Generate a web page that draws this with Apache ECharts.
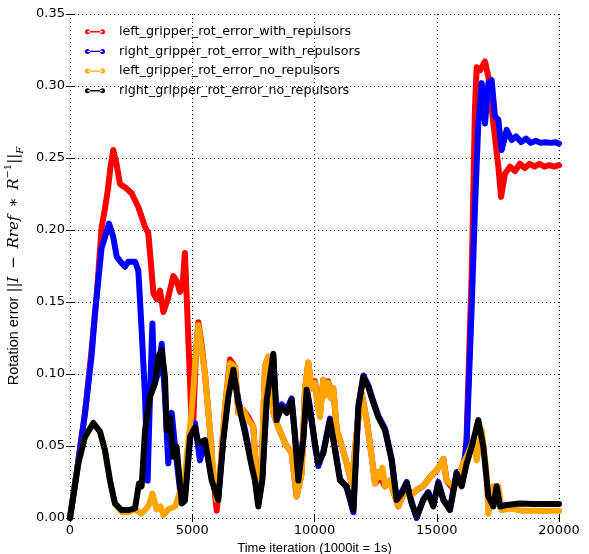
<!DOCTYPE html>
<html><head><meta charset="utf-8">
<script src="https://cdn.jsdelivr.net/npm/echarts@6/dist/echarts.min.js"></script>
<style>html,body{margin:0;padding:0;background:#fff}#c{width:589px;height:554px}</style>
</head><body><div id="c"></div>
<script>
const seriesNames = ['left_gripper_rot_error_with_repulsors','right_gripper_rot_error_with_repulsors','left_gripper_rot_error_no_repulsors','right_gripper_rot_error_no_repulsors'];
const seriesColors = ['#ff0000','#0000ff','#ffa500','#000000'];
const xTicks = [0,5000,10000,15000,20000];
const yTicks = [0,0.05,0.10,0.15,0.20,0.25,0.30,0.35];

const leftWithRep = [[0,0],[300,0.035],[615,0.073],[885,0.117],[1090,0.154],[1295,0.202],[1430,0.215],[1550,0.228],[1650,0.243],[1770,0.2555],[1900,0.246],[2045,0.232],[2300,0.229],[2520,0.2255],[2795,0.216],[3070,0.202],[3200,0.198],[3310,0.177],[3410,0.156],[3550,0.152],[3680,0.158],[3820,0.143],[4000,0.152],[4225,0.168],[4350,0.165],[4500,0.157],[4620,0.165],[4700,0.184],[4780,0.15],[4850,0.12],[4920,0.09],[4980,0.06],[5050,0.07],[5150,0.115],[5250,0.136],[5400,0.118],[5520,0.10],[5725,0.061],[5850,0.03],[6000,0.005],[6135,0.03],[6340,0.077],[6545,0.11],[6750,0.105],[6885,0.073],[7090,0.075],[7295,0.07],[7500,0.063],[7635,0.026],[7840,0.036],[7975,0.105],[8110,0.112],[8315,0.073],[8520,0.063],[8795,0.052],[9065,0.045],[9270,0.015],[9475,0.031],[9610,0.089],[9745,0.108],[9880,0.09],[10020,0.095],[10120,0.08],[10225,0.072],[10360,0.096],[10450,0.086],[10560,0.095],[10680,0.084],[10770,0.09],[10910,0.061],[11045,0.054],[11315,0.038],[11520,0.024],[11725,0.059],[11930,0.0865],[12135,0.068],[12340,0.0425],[12475,0.024],[12680,0.0285],[12885,0.022],[13090,0.026],[13290,0.015],[13430,0.008],[13700,0.0195],[13905,0.015],[14180,0.0195],[14450,0.022],[14725,0.0285],[15000,0.033],[15270,0.041],[15405,0.026],[15680,0.02],[15950,0.031],[16085,0.038],[16200,0.045],[16300,0.10],[16430,0.170],[16565,0.2855],[16635,0.313],[16770,0.311],[16975,0.317],[17110,0.3065],[17315,0.274],[17520,0.244],[17630,0.223],[17790,0.239],[18000,0.244],[18200,0.241],[18400,0.246],[18600,0.243],[18800,0.246],[19000,0.244],[19200,0.246],[19400,0.244],[19600,0.245],[19800,0.244],[20000,0.245]];

const rightWithRep = [[0,0],[300,0.035],[615,0.073],[885,0.113],[1020,0.142],[1295,0.188],[1430,0.195],[1595,0.2045],[1770,0.195],[1910,0.1815],[2115,0.177],[2250,0.1745],[2385,0.178],[2660,0.178],[2795,0.172],[2930,0.1305],[3070,0.084],[3175,0.026],[3270,0.084],[3370,0.135],[3450,0.0935],[3600,0.1],[3750,0.121],[3885,0.084],[4020,0.038],[4160,0.073],[4295,0.0495],[4500,0.0195],[4700,0.015],[4975,0.066],[5110,0.066],[5315,0.04],[5520,0.054],[5795,0.028],[6065,0.014],[6270,0.056],[6475,0.086],[6680,0.104],[6885,0.082],[7160,0.061],[7430,0.038],[7565,0.028],[7700,0.01],[7865,0.028],[8045,0.084],[8200,0.1],[8315,0.112],[8450,0.07],[8655,0.079],[8860,0.075],[9065,0.083],[9200,0.058],[9340,0.028],[9540,0.056],[9680,0.09],[9815,0.077],[10020,0.05],[10155,0.036],[10360,0.046],[10635,0.069],[10840,0.048],[11045,0.027],[11315,0.021],[11590,0.004],[11795,0.078],[12000,0.099],[12200,0.092],[12405,0.081],[12610,0.071],[12885,0.062],[13155,0.041],[13360,0.0135],[13565,0.018],[13770,0.025],[13975,0.011],[14180,0.0],[14450,0.013],[14655,0.018],[14860,0.009],[15065,0.025],[15270,0.013],[15540,0.006],[15815,0.032],[16020,0.023],[16225,0.054],[16430,0.147],[16565,0.216],[16700,0.274],[16840,0.302],[16975,0.274],[17110,0.302],[17245,0.304],[17380,0.279],[17520,0.2765],[17655,0.2555],[17860,0.2695],[18065,0.2625],[18250,0.265],[18450,0.261],[18650,0.2635],[18850,0.2605],[19050,0.262],[19250,0.2605],[19450,0.261],[19650,0.2605],[19850,0.261],[20000,0.260]];

const leftNoRep = [[0,0],[340,0.038],[615,0.0565],[955,0.066],[1225,0.06],[1430,0.047],[1635,0.026],[1840,0.01],[2115,0.004],[2385,0.004],[2660,0.006],[2900,0.003],[3100,0.006],[3250,0.01],[3370,0.017],[3450,0.012],[3545,0.006],[3700,0.008],[3820,0.002],[4020,0.006],[4295,0.008],[4500,0.018],[4700,0.03],[4850,0.055],[4950,0.07],[5050,0.09],[5150,0.115],[5250,0.134],[5400,0.115],[5520,0.10],[5725,0.061],[5850,0.035],[6000,0.0125],[6135,0.031],[6340,0.077],[6545,0.1075],[6750,0.105],[6885,0.073],[7090,0.075],[7295,0.068],[7500,0.063],[7635,0.026],[7840,0.036],[7975,0.105],[8110,0.112],[8315,0.073],[8520,0.063],[8795,0.052],[9065,0.045],[9270,0.015],[9475,0.031],[9610,0.089],[9745,0.108],[9880,0.09],[10020,0.094],[10120,0.078],[10225,0.07],[10360,0.096],[10450,0.085],[10560,0.094],[10680,0.083],[10770,0.09],[10910,0.061],[11045,0.054],[11315,0.038],[11520,0.024],[11725,0.059],[11930,0.0865],[12135,0.068],[12340,0.0425],[12475,0.024],[12580,0.032],[12680,0.0285],[12780,0.035],[12885,0.022],[13090,0.026],[13290,0.015],[13430,0.008],[13700,0.0195],[13905,0.015],[14180,0.0195],[14450,0.022],[14725,0.0285],[15000,0.033],[15270,0.041],[15405,0.026],[15680,0.022],[15950,0.031],[16085,0.038],[16290,0.045],[16495,0.054],[16635,0.04],[16840,0.061],[17040,0.031],[17110,0.003],[17315,0.022],[17520,0.022],[17655,0.0055],[18000,0.0065],[18500,0.005],[19000,0.005],[19500,0.0048],[20000,0.005]];

const rightNoRep = [[0,0],[340,0.038],[615,0.0565],[955,0.066],[1225,0.06],[1430,0.047],[1635,0.026],[1840,0.01],[2115,0.0055],[2385,0.0055],[2660,0.0067],[2820,0.024],[2930,0.022],[3070,0.061],[3270,0.084],[3475,0.0935],[3615,0.112],[3750,0.1165],[3885,0.098],[3955,0.061],[4090,0.07],[4225,0.0425],[4360,0.0495],[4570,0.01],[4700,0.012],[4910,0.0565],[5110,0.063],[5250,0.052],[5520,0.054],[5795,0.026],[6065,0.0125],[6270,0.054],[6475,0.084],[6680,0.103],[6885,0.08],[7160,0.059],[7430,0.036],[7565,0.026],[7700,0.008],[7865,0.026],[8045,0.082],[8200,0.1],[8315,0.114],[8450,0.068],[8655,0.077],[8860,0.073],[9065,0.082],[9200,0.0565],[9340,0.026],[9540,0.054],[9680,0.089],[9815,0.075],[10020,0.052],[10155,0.038],[10360,0.045],[10635,0.068],[10840,0.047],[11045,0.026],[11315,0.022],[11590,0.0055],[11795,0.077],[12000,0.098],[12200,0.091],[12405,0.08],[12610,0.07],[12885,0.061],[13155,0.04],[13360,0.0125],[13565,0.017],[13770,0.024],[13975,0.01],[14180,0.001],[14450,0.0125],[14655,0.017],[14860,0.008],[15065,0.024],[15270,0.0125],[15540,0.0055],[15815,0.031],[16020,0.022],[16225,0.038],[16430,0.0495],[16700,0.068],[16905,0.0495],[17110,0.015],[17315,0.008],[17450,0.022],[17590,0.008],[17860,0.009],[18400,0.01],[19000,0.0098],[20000,0.0098]];

const seriesData = [leftWithRep, rightWithRep, leftNoRep, rightNoRep];

const legendIcon = 'path://M0,2.5a2.5,2.5 0 1,0 5,0a2.5,2.5 0 1,0 -5,0Z M15,2.5a2.5,2.5 0 1,0 5,0a2.5,2.5 0 1,0 -5,0Z M2.5,1.8L17.5,1.8L17.5,3.2L2.5,3.2Z';

const chart = echarts.init(document.getElementById('c'), null, {renderer:'canvas'});
const tickFont = {color:'#000', fontFamily:'DejaVu Sans', fontSize:13};
const grid = {color:'#000', type:[1,3], width:1};
chart.setOption({
  animation:false,
  backgroundColor:'#fff',
  grid:{left:70, right:30, top:14, bottom:36, containLabel:false, outerBoundsMode:'none'},
  legend:{orient:'vertical', left:85, top:23.7, padding:0, itemGap:3.7, itemWidth:20, itemHeight:5, icon:legendIcon,
    textStyle:{fontFamily:'DejaVu Sans', fontSize:12.7, color:'#000', lineHeight:16, padding:[0,0,0,9]},
    data:seriesNames},
  xAxis:[{type:'value', min:xTicks[0], max:xTicks[xTicks.length-1], interval:xTicks[1]-xTicks[0], position:'bottom',
    axisLine:{show:false}, axisTick:{show:true, inside:true, length:4, lineStyle:{color:'#000'}},
    axisLabel:Object.assign({margin:6, formatter:v=>String(v)}, tickFont),
    splitLine:{show:true, lineStyle:grid},
    name:'Time iteration (1000it = 1s)', nameLocation:'middle', nameGap:17,
    nameTextStyle:{color:'#000', fontFamily:'Liberation Sans', fontSize:13}},
   {type:'value', min:xTicks[0], max:xTicks[xTicks.length-1], interval:xTicks[1]-xTicks[0], position:'top',
    axisLine:{show:false}, axisTick:{show:true, inside:true, length:4, lineStyle:{color:'#000'}},
    axisLabel:{show:false}, splitLine:{show:false}}],
  yAxis:[{type:'value', min:yTicks[0], max:yTicks[yTicks.length-1], interval:0.05, position:'left',
    axisLine:{show:false}, axisTick:{show:true, inside:true, length:4, lineStyle:{color:'#000'}},
    axisLabel:Object.assign({margin:5, formatter:v=>v.toFixed(2)}, tickFont),
    splitLine:{show:true, lineStyle:grid},
    name:'{a|Rotation error }{m|||I \u2009−\u2009 Rref \u2009∗\u2009 R}{s|−1}{m|||}{f|F}', nameLocation:'middle', nameGap:44,
    nameTextStyle:{color:'#000', rich:{
      a:{fontFamily:'Liberation Sans', fontSize:14.5, color:'#000', lineHeight:22},
      m:{fontFamily:'DejaVu Serif', fontStyle:'italic', fontSize:15, color:'#000', lineHeight:22},
      s:{fontFamily:'DejaVu Serif', fontSize:10, color:'#000', verticalAlign:'top', lineHeight:22},
      f:{fontFamily:'DejaVu Serif', fontStyle:'italic', fontSize:10, color:'#000', verticalAlign:'bottom', lineHeight:22}
    }}},
   {type:'value', min:yTicks[0], max:yTicks[yTicks.length-1], interval:0.05, position:'right',
    axisLine:{show:false}, axisTick:{show:true, inside:true, length:4, lineStyle:{color:'#000'}},
    axisLabel:{show:false}, splitLine:{show:false}}],
  series: seriesNames.map((n,i)=>({
    name:n, type:'line', xAxisIndex:0, yAxisIndex:0, data:seriesData[i], showSymbol:false, symbol:'circle', symbolSize:5,
    itemStyle:{color:seriesColors[i]},
    lineStyle:{color:seriesColors[i], width:6, cap:'round', join:'round'},
    z:2+i
  }))
});
</script></body></html>
